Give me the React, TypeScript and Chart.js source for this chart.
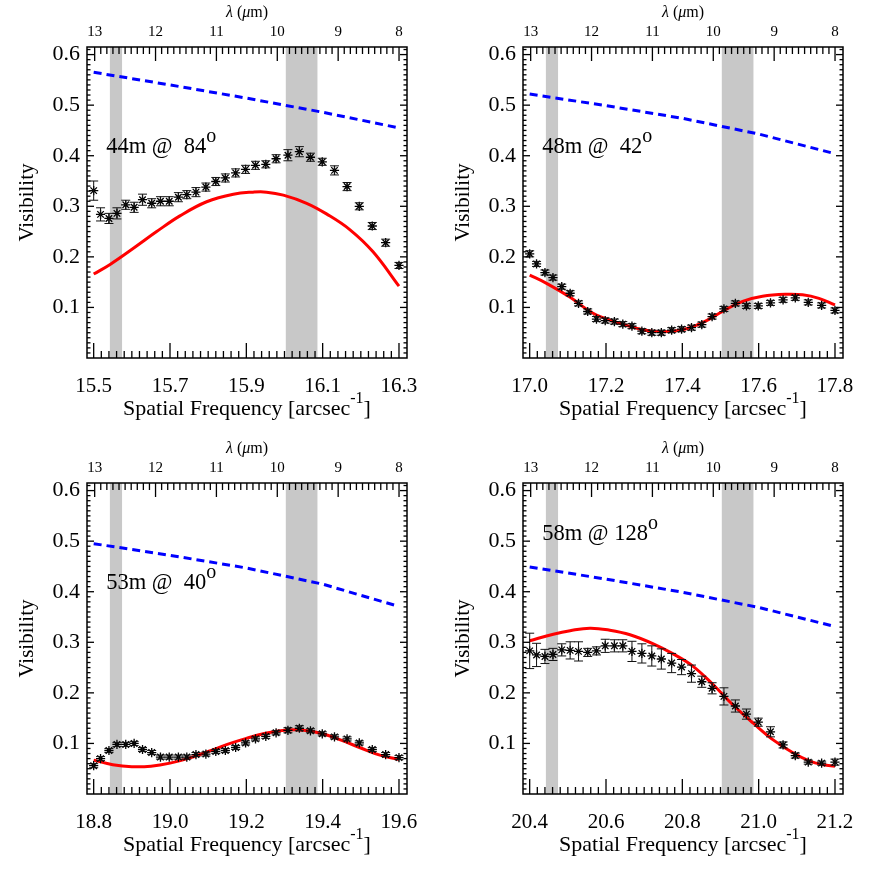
import React, { useEffect, useRef } from "react";
import { Chart, registerables } from "chart.js";

Chart.register(...registerables);

const SERIF = "'Liberation Serif', 'Times New Roman', Times, serif";

// ---- shared axis data ----
const lambdaTicks = [13, 12, 11, 10, 9, 8];
const visibilityTicks = [0.1, 0.2, 0.3, 0.4, 0.5, 0.6];
const bandLambdaFrom = [12.75, 9.86];
const bandLambdaTo = [12.55, 9.34];

// ---- panel 1: 44m @ 84 ----
const p1Label = "44m @  84";
const p1FreqTicks = [15.5, 15.7, 15.9, 16.1, 16.3];
const p1Freq = [15.500, 15.518, 15.540, 15.561, 15.584, 15.606, 15.628, 15.652, 15.675, 15.698, 15.722, 15.744, 15.768, 15.794, 15.820, 15.845, 15.872, 15.898, 15.924, 15.951, 15.978, 16.009, 16.039, 16.068, 16.099, 16.131, 16.164, 16.196, 16.230, 16.265, 16.300];
const p1Vis = [0.331, 0.284, 0.276, 0.286, 0.303, 0.298, 0.313, 0.306, 0.310, 0.310, 0.318, 0.323, 0.328, 0.338, 0.349, 0.356, 0.366, 0.373, 0.381, 0.383, 0.394, 0.401, 0.408, 0.397, 0.388, 0.371, 0.339, 0.300, 0.261, 0.228, 0.183];
const p1Err = [0.019, 0.013, 0.010, 0.011, 0.009, 0.010, 0.011, 0.009, 0.009, 0.009, 0.009, 0.008, 0.009, 0.008, 0.008, 0.008, 0.008, 0.008, 0.008, 0.007, 0.008, 0.011, 0.010, 0.008, 0.007, 0.009, 0.008, 0.007, 0.007, 0.007, 0.006];
const p1ModelFreq = [15.500, 15.543, 15.606, 15.665, 15.726, 15.796, 15.866, 15.918, 15.953, 15.997, 16.058, 16.110, 16.171, 16.232, 16.300];
const p1ModelVis = [0.166, 0.185, 0.218, 0.250, 0.281, 0.309, 0.324, 0.328, 0.328, 0.322, 0.306, 0.285, 0.254, 0.210, 0.142];
const p1DiskFreq = [15.5, 15.7, 15.9, 16.1, 16.3];
const p1DiskVis = [0.565, 0.540, 0.514, 0.486, 0.455];

// ---- panel 2: 48m @ 42 ----
const p2Label = "48m @  42";
const p2FreqTicks = [17.0, 17.2, 17.4, 17.6, 17.8];
const p2Freq = [17.000, 17.018, 17.040, 17.061, 17.084, 17.106, 17.128, 17.152, 17.175, 17.198, 17.222, 17.244, 17.268, 17.294, 17.320, 17.345, 17.372, 17.398, 17.424, 17.451, 17.478, 17.509, 17.539, 17.568, 17.599, 17.631, 17.664, 17.696, 17.730, 17.765, 17.800];
const p2Vis = [0.206, 0.186, 0.169, 0.159, 0.141, 0.128, 0.108, 0.092, 0.077, 0.074, 0.072, 0.067, 0.063, 0.053, 0.050, 0.050, 0.055, 0.057, 0.060, 0.066, 0.082, 0.097, 0.108, 0.103, 0.103, 0.109, 0.115, 0.119, 0.110, 0.104, 0.094];
const p2Err = [0.006, 0.005, 0.005, 0.005, 0.005, 0.005, 0.005, 0.005, 0.005, 0.005, 0.005, 0.005, 0.005, 0.005, 0.005, 0.005, 0.005, 0.005, 0.005, 0.005, 0.005, 0.005, 0.005, 0.005, 0.005, 0.005, 0.005, 0.005, 0.005, 0.005, 0.005];
const p2ModelFreq = [17.000, 17.043, 17.106, 17.165, 17.226, 17.296, 17.348, 17.401, 17.453, 17.505, 17.558, 17.610, 17.671, 17.715, 17.758, 17.800];
const p2ModelVis = [0.164, 0.148, 0.120, 0.089, 0.071, 0.056, 0.052, 0.056, 0.070, 0.092, 0.112, 0.122, 0.126, 0.125, 0.118, 0.105];
const p2DiskFreq = [17.0, 17.2, 17.4, 17.6, 17.8];
const p2DiskVis = [0.522, 0.499, 0.474, 0.443, 0.404];

// ---- panel 3: 53m @ 40 ----
const p3Label = "53m @  40";
const p3FreqTicks = [18.8, 19.0, 19.2, 19.4, 19.6];
const p3Freq = [18.800, 18.818, 18.840, 18.861, 18.884, 18.906, 18.928, 18.952, 18.975, 18.998, 19.022, 19.044, 19.068, 19.094, 19.120, 19.145, 19.172, 19.198, 19.224, 19.251, 19.278, 19.309, 19.339, 19.368, 19.399, 19.431, 19.464, 19.496, 19.530, 19.565, 19.600];
const p3Vis = [0.056, 0.070, 0.086, 0.098, 0.098, 0.100, 0.088, 0.082, 0.073, 0.073, 0.073, 0.073, 0.078, 0.079, 0.084, 0.086, 0.092, 0.101, 0.109, 0.114, 0.121, 0.126, 0.130, 0.125, 0.119, 0.113, 0.109, 0.101, 0.088, 0.078, 0.072];
const p3Err = [0.004, 0.004, 0.004, 0.004, 0.004, 0.004, 0.004, 0.004, 0.004, 0.004, 0.004, 0.004, 0.004, 0.004, 0.004, 0.004, 0.004, 0.004, 0.004, 0.004, 0.004, 0.005, 0.005, 0.004, 0.004, 0.004, 0.004, 0.004, 0.004, 0.004, 0.004];
const p3ModelFreq = [18.80, 18.85, 18.90, 18.95, 19.00, 19.05, 19.10, 19.15, 19.20, 19.25, 19.30, 19.35, 19.40, 19.45, 19.50, 19.55, 19.60];
const p3ModelVis = [0.067, 0.058, 0.054, 0.055, 0.061, 0.071, 0.084, 0.098, 0.110, 0.120, 0.126, 0.126, 0.119, 0.106, 0.091, 0.077, 0.068];
const p3DiskFreq = [18.8, 19.0, 19.2, 19.4, 19.59];
const p3DiskVis = [0.495, 0.472, 0.447, 0.415, 0.373];

// ---- panel 4: 58m @ 128 ----
const p4Label = "58m @ 128";
const p4FreqTicks = [20.4, 20.6, 20.8, 21.0, 21.2];
const p4Freq = [20.400, 20.418, 20.440, 20.461, 20.484, 20.506, 20.528, 20.552, 20.575, 20.598, 20.622, 20.644, 20.668, 20.694, 20.720, 20.745, 20.772, 20.798, 20.824, 20.851, 20.878, 20.909, 20.939, 20.968, 20.999, 21.031, 21.064, 21.096, 21.130, 21.165, 21.200];
const p4Vis = [0.283, 0.275, 0.272, 0.276, 0.285, 0.284, 0.282, 0.280, 0.283, 0.293, 0.293, 0.293, 0.282, 0.278, 0.273, 0.267, 0.259, 0.251, 0.238, 0.222, 0.209, 0.193, 0.174, 0.158, 0.142, 0.123, 0.097, 0.076, 0.063, 0.061, 0.063];
const p4Err = [0.035, 0.023, 0.014, 0.012, 0.012, 0.017, 0.019, 0.008, 0.008, 0.013, 0.012, 0.012, 0.020, 0.019, 0.020, 0.020, 0.019, 0.015, 0.017, 0.011, 0.011, 0.017, 0.012, 0.010, 0.008, 0.010, 0.006, 0.005, 0.004, 0.004, 0.006];
const p4ModelFreq = [20.400, 20.462, 20.506, 20.558, 20.610, 20.663, 20.724, 20.776, 20.829, 20.881, 20.933, 20.986, 21.038, 21.091, 21.134, 21.169, 21.200];
const p4ModelVis = [0.303, 0.316, 0.323, 0.328, 0.324, 0.315, 0.297, 0.277, 0.252, 0.216, 0.176, 0.140, 0.107, 0.081, 0.065, 0.058, 0.055];
const p4DiskFreq = [20.4, 20.6, 20.8, 21.0, 21.19];
const p4DiskVis = [0.449, 0.425, 0.399, 0.369, 0.333];

// annotation anchor (left edge in wavelength, baseline in visibility)
const labelLambda = 12.81;
const labelVisibility = [0.406, 0.406, 0.406, 0.503];

type Spec = {
  label: string;
  labelVis: number;
  freqTicks: number[];
  freq: number[];
  vis: number[];
  err: number[];
  modelFreq: number[];
  modelVis: number[];
  diskFreq: number[];
  diskVis: number[];
};

const panels: Spec[] = [
  { label: p1Label, labelVis: labelVisibility[0], freqTicks: p1FreqTicks, freq: p1Freq, vis: p1Vis, err: p1Err, modelFreq: p1ModelFreq, modelVis: p1ModelVis, diskFreq: p1DiskFreq, diskVis: p1DiskVis },
  { label: p2Label, labelVis: labelVisibility[1], freqTicks: p2FreqTicks, freq: p2Freq, vis: p2Vis, err: p2Err, modelFreq: p2ModelFreq, modelVis: p2ModelVis, diskFreq: p2DiskFreq, diskVis: p2DiskVis },
  { label: p3Label, labelVis: labelVisibility[2], freqTicks: p3FreqTicks, freq: p3Freq, vis: p3Vis, err: p3Err, modelFreq: p3ModelFreq, modelVis: p3ModelVis, diskFreq: p3DiskFreq, diskVis: p3DiskVis },
  { label: p4Label, labelVis: labelVisibility[3], freqTicks: p4FreqTicks, freq: p4Freq, vis: p4Vis, err: p4Err, modelFreq: p4ModelFreq, modelVis: p4ModelVis, diskFreq: p4DiskFreq, diskVis: p4DiskVis },
];

const SIZE = 436;

type Run = { text: string; font: string; dy?: number };

function drawRuns(ctx: CanvasRenderingContext2D, runs: Run[], x: number, baseline: number, align: "left" | "center") {
  ctx.textAlign = "left";
  ctx.textBaseline = "alphabetic";
  const widths = runs.map((r) => {
    ctx.font = r.font;
    return ctx.measureText(r.text).width;
  });
  const total = widths.reduce((a, b) => a + b, 0);
  let cx = align === "center" ? x - total / 2 : x;
  runs.forEach((r, i) => {
    ctx.font = r.font;
    ctx.fillText(r.text, cx, baseline + (r.dy || 0));
    cx += widths[i];
  });
}

function Panel({ spec, left, top }: { spec: Spec; left: number; top: number }) {
  const ref = useRef<HTMLCanvasElement | null>(null);

  useEffect(() => {
    const canvas = ref.current;
    if (!canvas) return;
    const f0 = spec.freqTicks[0];
    const f1 = spec.freqTicks[spec.freqTicks.length - 1];

    const decor = {
      id: "decor",
      beforeDatasetsDraw(chart: any) {
        const { ctx, chartArea: a } = chart;
        const lam = chart.scales.lam;
        ctx.save();
        ctx.fillStyle = "#c8c8c8";
        for (let i = 0; i < bandLambdaFrom.length; i++) {
          const xa = lam.getPixelForValue(bandLambdaFrom[i]);
          const xb = lam.getPixelForValue(bandLambdaTo[i]);
          ctx.fillRect(Math.min(xa, xb), a.top, Math.abs(xb - xa), a.bottom - a.top);
        }
        ctx.restore();
      },
      afterDatasetsDraw(chart: any) {
        const { ctx } = chart;
        const xs = chart.scales.x;
        const ys = chart.scales.y;
        ctx.save();
        ctx.setLineDash([]);
        ctx.strokeStyle = "#111";
        ctx.lineWidth = 1;
        ctx.beginPath();
        for (let i = 0; i < spec.freq.length; i++) {
          const px = xs.getPixelForValue(spec.freq[i]);
          const yLo = ys.getPixelForValue(spec.vis[i] - spec.err[i]);
          const yHi = ys.getPixelForValue(spec.vis[i] + spec.err[i]);
          ctx.moveTo(px, yLo);
          ctx.lineTo(px, yHi);
          ctx.moveTo(px - 4.5, yLo);
          ctx.lineTo(px + 4.5, yLo);
          ctx.moveTo(px - 4.5, yHi);
          ctx.lineTo(px + 4.5, yHi);
        }
        ctx.stroke();
        ctx.restore();
      },
      afterDraw(chart: any) {
        const { ctx, chartArea: a } = chart;
        const xs = chart.scales.x;
        const ys = chart.scales.y;
        const lam = chart.scales.lam;
        ctx.save();
        ctx.setLineDash([]);
        ctx.fillStyle = "#000";
        const tw = 1.3;
        // bottom (spatial frequency) ticks
        const nx = Math.round((f1 - f0) / 0.02);
        for (let i = 0; i <= nx; i++) {
          const px = xs.getPixelForValue(f0 + i * 0.02);
          const len = i % 10 === 0 ? 15 : 7;
          ctx.fillRect(px - tw / 2, a.bottom - len, tw, len);
        }
        // top (wavelength) ticks
        const l0 = lambdaTicks[0];
        const l1 = lambdaTicks[lambdaTicks.length - 1];
        const nl = Math.round((l0 - l1) / 0.1);
        for (let i = 0; i <= nl; i++) {
          const px = lam.getPixelForValue(l0 - i * 0.1);
          const len = i % 10 === 0 ? 14 : 7;
          ctx.fillRect(px - tw / 2, a.top, tw, len);
        }
        // left / right ticks
        for (let i = 1; i <= 61; i++) {
          const py = ys.getPixelForValue(i * 0.01);
          const len = i % 10 === 0 ? 7 : 3.5;
          ctx.fillRect(a.left, py - tw / 2, len, tw);
          ctx.fillRect(a.right - len, py - tw / 2, len, tw);
        }
        ctx.strokeStyle = "#000";
        ctx.lineWidth = 1.5;
        ctx.strokeRect(a.left, a.top, a.right - a.left, a.bottom - a.top);

        const cx = (a.left + a.right) / 2;
        // bottom title
        drawRuns(
          ctx,
          [
            { text: "Spatial Frequency [arcsec", font: `22px ${SERIF}` },
            { text: "-1", font: `16px ${SERIF}`, dy: -12 },
            { text: "]", font: `22px ${SERIF}` },
          ],
          cx,
          415,
          "center"
        );
        // top title
        drawRuns(
          ctx,
          [
            { text: "λ", font: `italic 16px ${SERIF}` },
            { text: " (", font: `16px ${SERIF}` },
            { text: "μ", font: `italic 16px ${SERIF}` },
            { text: "m)", font: `16px ${SERIF}` },
          ],
          cx,
          17,
          "center"
        );
        // y title
        ctx.save();
        ctx.translate(33, (a.top + a.bottom) / 2);
        ctx.rotate(-Math.PI / 2);
        ctx.font = `21px ${SERIF}`;
        ctx.textAlign = "center";
        ctx.textBaseline = "alphabetic";
        ctx.fillText("Visibility", 0, 0);
        ctx.restore();
        // annotation
        drawRuns(
          ctx,
          [
            { text: spec.label, font: `22.5px ${SERIF}` },
            { text: "o", font: `20px ${SERIF}`, dy: -11 },
          ],
          lam.getPixelForValue(labelLambda),
          ys.getPixelForValue(spec.labelVis),
          "left"
        );
        ctx.restore();
      },
    };

    const tickFont = (size: number) => ({ family: SERIF, size });

    const chart = new Chart(canvas, {
      type: "scatter",
      data: {
        datasets: [
          {
            type: "line",
            data: spec.diskFreq.map((v, i) => ({ x: v, y: spec.diskVis[i] })),
            borderColor: "#0000ff",
            borderWidth: 3,
            borderDash: [8, 5],
            pointRadius: 0,
            fill: false,
            tension: 0,
            order: 3,
          } as any,
          {
            type: "line",
            data: spec.modelFreq.map((v, i) => ({ x: v, y: spec.modelVis[i] })),
            borderColor: "#ff0000",
            borderWidth: 3,
            pointRadius: 0,
            fill: false,
            tension: 0.4,
            order: 2,
          } as any,
          {
            type: "scatter",
            data: spec.freq.map((v, i) => ({ x: v, y: spec.vis[i] })),
            pointStyle: "star",
            pointRadius: 4.6,
            borderColor: "#000",
            backgroundColor: "#000",
            borderWidth: 1.3,
            order: 1,
          } as any,
        ],
      },
      options: {
        animation: false,
        responsive: false,
        devicePixelRatio: 1,
        events: [],
        layout: { padding: { left: 0, top: 0, right: 29, bottom: 0 } },
        plugins: { legend: { display: false }, tooltip: { enabled: false } },
        scales: {
          x: {
            type: "linear",
            position: "bottom",
            min: f0 - 0.0175,
            max: f1 + 0.021,
            grid: { display: false, drawTicks: false },
            border: { display: false },
            ticks: {
              font: tickFont(21),
              color: "#000",
              padding: 16,
              maxRotation: 0,
              autoSkip: false,
              callback: (v: any) => Number(v).toFixed(1),
            },
            afterBuildTicks: (s: any) => {
              s.ticks = spec.freqTicks.map((v) => ({ value: v }));
            },
            afterFit: (s: any) => {
              s.height = SIZE - 358;
            },
          },
          lam: {
            type: "linear",
            axis: "x",
            position: "top",
            reverse: true,
            min: 7.869,
            max: 13.126,
            grid: { display: false, drawTicks: false },
            border: { display: false },
            ticks: {
              font: tickFont(15),
              color: "#000",
              padding: 6,
              maxRotation: 0,
              autoSkip: false,
              callback: (v: any) => String(v),
            },
            afterBuildTicks: (s: any) => {
              s.ticks = lambdaTicks.map((v) => ({ value: v }));
            },
            afterFit: (s: any) => {
              s.height = 47;
            },
          },
          y: {
            type: "linear",
            position: "left",
            min: 0,
            max: 0.615,
            grid: { display: false, drawTicks: false },
            border: { display: false },
            ticks: {
              font: tickFont(22),
              color: "#000",
              padding: 7,
              autoSkip: false,
              callback: (v: any) => Number(v).toFixed(1),
            },
            afterBuildTicks: (s: any) => {
              s.ticks = visibilityTicks.map((v) => ({ value: v }));
            },
            afterFit: (s: any) => {
              s.width = 87;
            },
          },
        },
      } as any,
      plugins: [decor],
    });
    return () => chart.destroy();
  }, [spec]);

  return (
    <canvas
      ref={ref}
      width={SIZE}
      height={SIZE}
      style={{ position: "absolute", left, top, width: SIZE, height: SIZE }}
    />
  );
}

export default function App() {
  return (
    <div style={{ position: "absolute", left: 0, top: 0, width: 872, height: 872, background: "#fff" }}>
      {panels.map((p, i) => (
        <Panel key={i} spec={p} left={(i % 2) * SIZE} top={Math.floor(i / 2) * SIZE} />
      ))}
    </div>
  );
}
